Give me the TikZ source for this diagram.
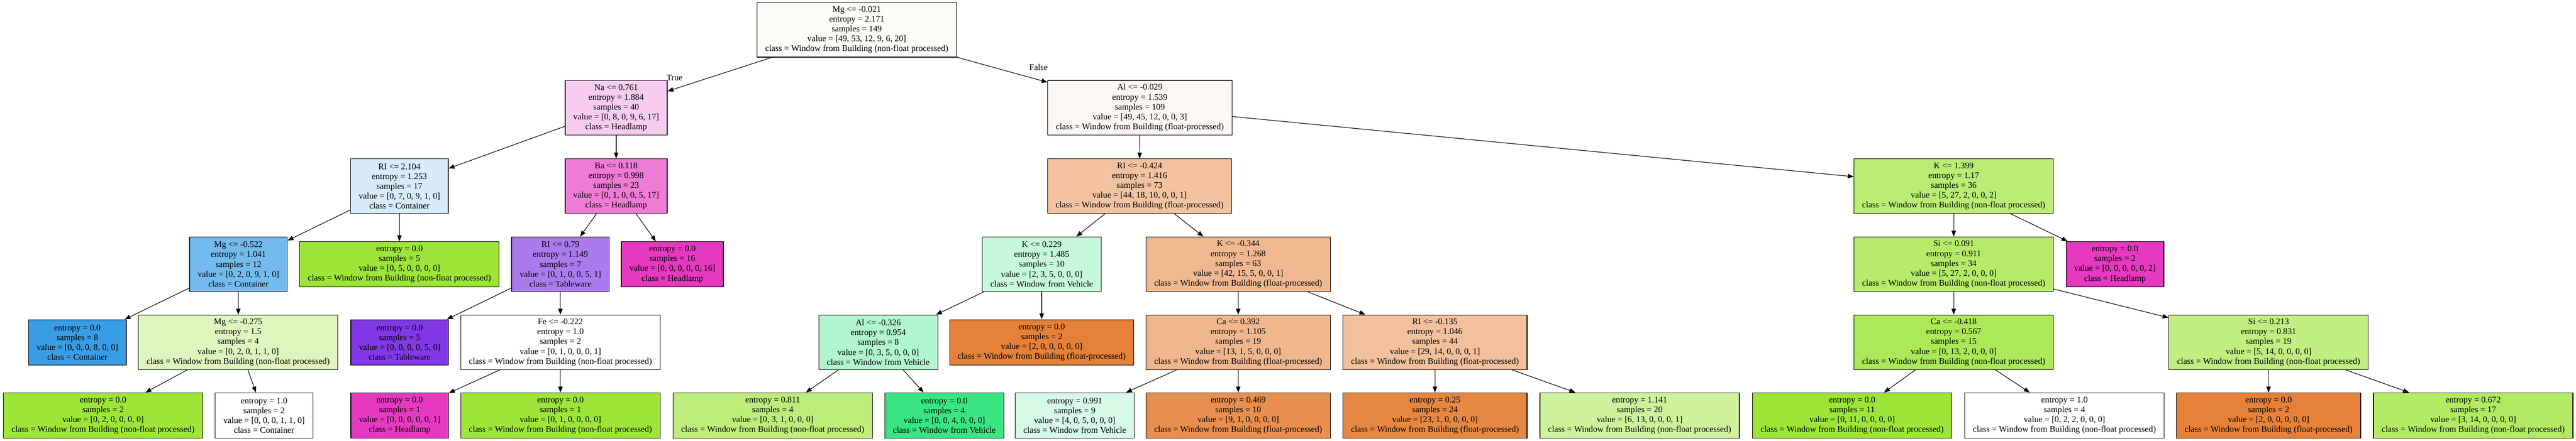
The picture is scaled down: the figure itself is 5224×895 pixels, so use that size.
\documentclass[tikz,border=0pt]{standalone}
\usepackage{fontspec}
\setmainfont{Liberation Serif}
\usetikzlibrary{arrows.meta}

\definecolor{cRoot}{HTML}{FBFEF7}
\definecolor{cNa}{HTML}{F8CCEF}
\definecolor{cAl}{HTML}{FDF7F3}
\definecolor{cRIa}{HTML}{D7EBFA}
\definecolor{cBa}{HTML}{EE7BD5}
\definecolor{cRIb}{HTML}{F3C3A1}
\definecolor{cKa}{HTML}{B9ED73}
\definecolor{cMga}{HTML}{74BAED}
\definecolor{cRIc}{HTML}{AB7BEE}
\definecolor{cKb}{HTML}{C6F8DB}
\definecolor{cKc}{HTML}{F0B890}
\definecolor{cSia}{HTML}{B5EB69}
\definecolor{cMgb}{HTML}{DEF6BD}
\definecolor{cAlb}{HTML}{B0F5CD}
\definecolor{cCaa}{HTML}{F0B78E}
\definecolor{cRId}{HTML}{F2C09C}
\definecolor{cCab}{HTML}{ACE958}
\definecolor{cSib}{HTML}{C0EE80}
\definecolor{cNonfloat}{HTML}{9DE539}
\definecolor{cFloat}{HTML}{E58139}
\definecolor{cVehicle}{HTML}{39E581}
\definecolor{cContainer}{HTML}{399DE5}
\definecolor{cTableware}{HTML}{8139E5}
\definecolor{cHeadlamp}{HTML}{E539C0}
\definecolor{cLfive}{HTML}{BEED7B}
\definecolor{cLseven}{HTML}{D7FAE6}
\definecolor{cLeight}{HTML}{E88F4F}
\definecolor{cLnine}{HTML}{E68742}
\definecolor{cLten}{HTML}{CEF29C}
\definecolor{cLfourteen}{HTML}{B2EB63}

\begin{document}
\begin{tikzpicture}[x=1pt,y=-1pt,
    font=\fontsize{17.57}{20}\selectfont,
    leafbox/.style={draw, line width=1.2pt, rectangle, align=center,
      inner xsep=16.5pt, inner ysep=0pt, minimum height=92pt},
    splitbox/.style={leafbox, minimum height=111pt},
    branch/.style={line width=1.2pt, -{Triangle[length=12pt,width=9pt]}},
    lbl/.style={inner sep=0pt}]
  \useasboundingbox (0,0) rectangle (5224,895);

  % level 0 and 1
  \node [splitbox, fill=cRoot] (root) at (1737.5,60.5) {Mg <= -0.021\\entropy = 2.171\\samples = 149\\value = [49, 53, 12, 9, 6, 20]\\class = Window from Building (non-float processed)};
  \node [splitbox, fill=cNa] (na) at (1249.5,219) {Na <= 0.761\\entropy = 1.884\\samples = 40\\value = [0, 8, 0, 9, 6, 17]\\class = Headlamp};
  \node [splitbox, fill=cAl] (al) at (2311.5,218.5) {Al <= -0.029\\entropy = 1.539\\samples = 109\\value = [49, 45, 12, 0, 0, 3]\\class = Window from Building (float-processed)};
  \node [lbl] (ltrue) at (1368,158) {True};
  \node [lbl] (lfalse) at (2106,137) {False};

  % level 2
  \node [splitbox, fill=cRIa] (ria) at (810,378) {RI <= 2.104\\entropy = 1.253\\samples = 17\\value = [0, 7, 0, 9, 1, 0]\\class = Container};
  \node [splitbox, fill=cBa] (ba) at (1249.5,378) {Ba <= 0.118\\entropy = 0.998\\samples = 23\\value = [0, 1, 0, 0, 5, 17]\\class = Headlamp};
  \node [splitbox, fill=cRIb] (rib) at (2311,378) {RI <= -0.424\\entropy = 1.416\\samples = 73\\value = [44, 18, 10, 0, 0, 1]\\class = Window from Building (float-processed)};
  \node [splitbox, fill=cKa] (ka) at (3962,378) {K <= 1.399\\entropy = 1.17\\samples = 36\\value = [5, 27, 2, 0, 0, 2]\\class = Window from Building (non-float processed)};

  % level 3
  \node [splitbox, fill=cMga] (mga) at (483.5,536.5) {Mg <= -0.522\\entropy = 1.041\\samples = 12\\value = [0, 2, 0, 9, 1, 0]\\class = Container};
  \node [leafbox, fill=cNonfloat] (lfive) at (810,536.5) {entropy = 0.0\\samples = 5\\value = [0, 5, 0, 0, 0, 0]\\class = Window from Building (non-float processed)};
  \node [splitbox, fill=cRIc] (ric) at (1136.5,536.5) {RI <= 0.79\\entropy = 1.149\\samples = 7\\value = [0, 1, 0, 0, 5, 1]\\class = Tableware};
  \node [leafbox, fill=cHeadlamp] (lhsixteen) at (1363.5,536.5) {entropy = 0.0\\samples = 16\\value = [0, 0, 0, 0, 0, 16]\\class = Headlamp};
  \node [splitbox, fill=cKb] (kb) at (2112.5,536.5) {K <= 0.229\\entropy = 1.485\\samples = 10\\value = [2, 3, 5, 0, 0, 0]\\class = Window from Vehicle};
  \node [splitbox, fill=cKc] (kc) at (2511,536.5) {K <= -0.344\\entropy = 1.268\\samples = 63\\value = [42, 15, 5, 0, 0, 1]\\class = Window from Building (float-processed)};
  \node [splitbox, fill=cSia] (sia) at (3962,536.5) {Si <= 0.091\\entropy = 0.911\\samples = 34\\value = [5, 27, 2, 0, 0, 0]\\class = Window from Building (non-float processed)};
  \node [leafbox, fill=cHeadlamp] (lhtwo) at (4289,536.5) {entropy = 0.0\\samples = 2\\value = [0, 0, 0, 0, 0, 2]\\class = Headlamp};

  % level 4
  \node [leafbox, fill=cContainer] (lceight) at (157,695) {entropy = 0.0\\samples = 8\\value = [0, 0, 0, 8, 0, 0]\\class = Container};
  \node [splitbox, fill=cMgb] (mgb) at (483,695) {Mg <= -0.275\\entropy = 1.5\\samples = 4\\value = [0, 2, 0, 1, 1, 0]\\class = Window from Building (non-float processed)};
  \node [leafbox, fill=cTableware] (ltw) at (810.5,695) {entropy = 0.0\\samples = 5\\value = [0, 0, 0, 0, 5, 0]\\class = Tableware};
  \node [splitbox, fill=white] (fe) at (1136.5,695) {Fe <= -0.222\\entropy = 1.0\\samples = 2\\value = [0, 1, 0, 0, 0, 1]\\class = Window from Building (non-float processed)};
  \node [splitbox, fill=cAlb] (alb) at (1781,695) {Al <= -0.326\\entropy = 0.954\\samples = 8\\value = [0, 3, 5, 0, 0, 0]\\class = Window from Vehicle};
  \node [leafbox, fill=cFloat] (lotwo) at (2112.5,695) {entropy = 0.0\\samples = 2\\value = [2, 0, 0, 0, 0, 0]\\class = Window from Building (float-processed)};
  \node [splitbox, fill=cCaa] (caa) at (2511,695) {Ca <= 0.392\\entropy = 1.105\\samples = 19\\value = [13, 1, 5, 0, 0, 0]\\class = Window from Building (float-processed)};
  \node [splitbox, fill=cRId] (rid) at (2910,695) {RI <= -0.135\\entropy = 1.046\\samples = 44\\value = [29, 14, 0, 0, 0, 1]\\class = Window from Building (float-processed)};
  \node [splitbox, fill=cCab] (cab) at (3962,695) {Ca <= -0.418\\entropy = 0.567\\samples = 15\\value = [0, 13, 2, 0, 0, 0]\\class = Window from Building (non-float processed)};
  \node [splitbox, fill=cSib] (sib) at (4600.5,695) {Si <= 0.213\\entropy = 0.831\\samples = 19\\value = [5, 14, 0, 0, 0, 0]\\class = Window from Building (non-float processed)};

  % level 5
  \node [leafbox, fill=cNonfloat] (lone) at (209,843.5) {entropy = 0.0\\samples = 2\\value = [0, 2, 0, 0, 0, 0]\\class = Window from Building (non-float processed)};
  \node [leafbox, fill=white] (ltwo) at (535.5,843.5) {entropy = 1.0\\samples = 2\\value = [0, 0, 0, 1, 1, 0]\\class = Container};
  \node [leafbox, fill=cHeadlamp] (lthree) at (810.5,843.5) {entropy = 0.0\\samples = 1\\value = [0, 0, 0, 0, 0, 1]\\class = Headlamp};
  \node [leafbox, fill=cNonfloat] (lfour) at (1136.5,843.5) {entropy = 0.0\\samples = 1\\value = [0, 1, 0, 0, 0, 0]\\class = Window from Building (non-float processed)};
  \node [leafbox, fill=cLfive] (lvfive) at (1567,843.5) {entropy = 0.811\\samples = 4\\value = [0, 3, 1, 0, 0, 0]\\class = Window from Building (non-float processed)};
  \node [leafbox, fill=cVehicle] (lsix) at (1915,843.5) {entropy = 0.0\\samples = 4\\value = [0, 0, 4, 0, 0, 0]\\class = Window from Vehicle};
  \node [leafbox, fill=cLseven] (lseven) at (2179.5,843.5) {entropy = 0.991\\samples = 9\\value = [4, 0, 5, 0, 0, 0]\\class = Window from Vehicle};
  \node [leafbox, fill=cLeight] (leight) at (2511,843.5) {entropy = 0.469\\samples = 10\\value = [9, 1, 0, 0, 0, 0]\\class = Window from Building (float-processed)};
  \node [leafbox, fill=cLnine] (lnine) at (2910,843.5) {entropy = 0.25\\samples = 24\\value = [23, 1, 0, 0, 0, 0]\\class = Window from Building (float-processed)};
  \node [leafbox, fill=cLten] (lten) at (3325,843.5) {entropy = 1.141\\samples = 20\\value = [6, 13, 0, 0, 0, 1]\\class = Window from Building (non-float processed)};
  \node [leafbox, fill=cNonfloat] (leleven) at (3756,843.5) {entropy = 0.0\\samples = 11\\value = [0, 11, 0, 0, 0, 0]\\class = Window from Building (non-float processed)};
  \node [leafbox, fill=white] (ltwelve) at (4186.5,843.5) {entropy = 1.0\\samples = 4\\value = [0, 2, 2, 0, 0, 0]\\class = Window from Building (non-float processed)};
  \node [leafbox, fill=cFloat] (lthirteen) at (4600.5,843.5) {entropy = 0.0\\samples = 2\\value = [2, 0, 0, 0, 0, 0]\\class = Window from Building (float-processed)};
  \node [leafbox, fill=cLfourteen] (lfourteen) at (5015.5,843.5) {entropy = 0.672\\samples = 17\\value = [3, 14, 0, 0, 0, 0]\\class = Window from Building (non-float processed)};

  % branches
  \draw [branch] (root) -- (na);
  \draw [branch] (root) -- (al);
  \draw [branch] (na) -- (ria);
  \draw [branch] (na) -- (ba);
  \draw [branch] (ria) -- (mga);
  \draw [branch] (ria) -- (lfive);
  \draw [branch] (mga) -- (lceight);
  \draw [branch] (mga) -- (mgb);
  \draw [branch] (mgb) -- (lone);
  \draw [branch] (mgb) -- (ltwo);
  \draw [branch] (ba) -- (ric);
  \draw [branch] (ba) -- (lhsixteen);
  \draw [branch] (ric) -- (ltw);
  \draw [branch] (ric) -- (fe);
  \draw [branch] (fe) -- (lthree);
  \draw [branch] (fe) -- (lfour);
  \draw [branch] (al) -- (rib);
  \draw [branch] (al) -- (ka);
  \draw [branch] (rib) -- (kb);
  \draw [branch] (rib) -- (kc);
  \draw [branch] (kb) -- (alb);
  \draw [branch] (kb) -- (lotwo);
  \draw [branch] (alb) -- (lvfive);
  \draw [branch] (alb) -- (lsix);
  \draw [branch] (kc) -- (caa);
  \draw [branch] (kc) -- (rid);
  \draw [branch] (caa) -- (lseven);
  \draw [branch] (caa) -- (leight);
  \draw [branch] (rid) -- (lnine);
  \draw [branch] (rid) -- (lten);
  \draw [branch] (ka) -- (sia);
  \draw [branch] (ka) -- (lhtwo);
  \draw [branch] (sia) -- (cab);
  \draw [branch] (sia) -- (sib);
  \draw [branch] (cab) -- (leleven);
  \draw [branch] (cab) -- (ltwelve);
  \draw [branch] (sib) -- (lthirteen);
  \draw [branch] (sib) -- (lfourteen);
\end{tikzpicture}
\end{document}
